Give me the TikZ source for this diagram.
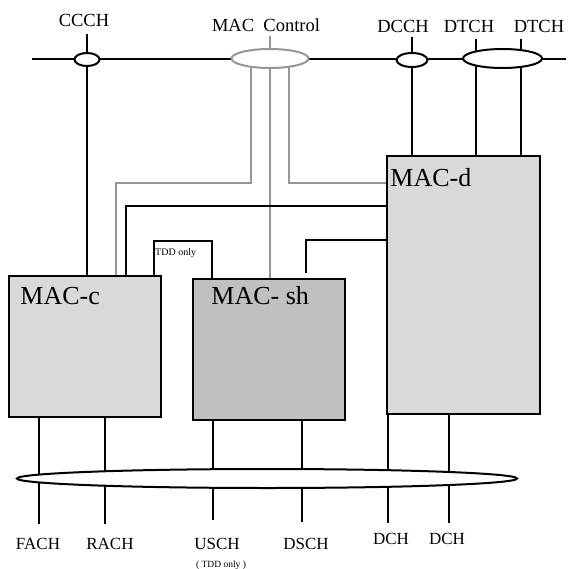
\documentclass[tikz,border=0pt]{standalone}
\usepackage{fontspec}
\setmainfont{Liberation Serif}
\usetikzlibrary{shapes.geometric,backgrounds}

\begin{document}
\begin{tikzpicture}[x=1pt,y=-1pt, every node/.style={font=\fontsize{17}{20}\selectfont},
  macBox/.style={draw, line width=1.5pt, inner sep=0pt},
  chanRing/.style={ellipse, draw, fill=white, line width=2pt, inner sep=0pt},
  boxText/.style={anchor=base west, inner sep=0pt, font=\fontsize{26}{30}\selectfont},
  chanText/.style={anchor=base},
  topText/.style={anchor=base, font=\fontsize{18.5}{22}\selectfont},
  wire/.style={line width=1.3pt},
  ctlWire/.style={line width=1.3pt, draw=ctlGray}]
  \definecolor{macLight}{HTML}{D9D9D9}
  \definecolor{macDark}{HTML}{C0C0C0}
  \definecolor{ctlGray}{HTML}{969696}
  \useasboundingbox (0,0) rectangle (567,569);
  % logical channels on top
  \coordinate (busL) at (32,59);
  \coordinate (busR) at (566,59);
  \node[chanRing, minimum width=25pt, minimum height=13pt] (ccch) at (87,59.5) {};
  \node[chanRing, draw=ctlGray, minimum width=77pt, minimum height=19pt] (macctl) at (270,58.5) {};
  \node[chanRing, minimum width=31pt, minimum height=14pt] (dcch) at (412,60) {};
  \node[chanRing, minimum width=79pt, minimum height=19pt] (dtch) at (502.5,58.5) {};
  \node[topText] (ccchlbl) at (84,27) {CCCH};
  \node[topText] (macctllbl) at (266,32) {MAC\ \ Control};
  \node[topText] (dcchlbl) at (403,33) {DCCH};
  \node[topText] (dtchlblA) at (469,33) {DTCH};
  \node[topText] (dtchlblB) at (539,33) {DTCH};
  \coordinate (dtchA) at (476,39);
  \coordinate (dtchB) at (521,39);
  % MAC entities
  \node[macBox, fill=macLight, minimum width=152pt, minimum height=141pt] (macc) at (85,346.5) {};
  \node[macBox, fill=macDark, minimum width=152pt, minimum height=141pt] (macsh) at (269,349.5) {};
  \node[macBox, fill=macLight, minimum width=153pt, minimum height=258pt] (macd) at (463.5,285) {};
  \node[boxText] (macclbl) at ([shift={(12pt,-29pt)}]macc.north west) {MAC-c};
  \node[boxText] (macshlbl) at ([shift={(19pt,-26pt)}]macsh.north west) {MAC-\ sh};
  \node[boxText] (macdlbl) at ([shift={(4pt,-31pt)}]macd.north west) {MAC-d};
  \node[anchor=base west, inner sep=0pt, font=\fontsize{10}{12}\selectfont] (tddlbl) at (155,255) {TDD only};
  % transport channels below
  \node[chanRing, minimum width=500pt, minimum height=19pt] (trbus) at (267,478.5) {};
  \node[chanText] (fachlbl) at (38,549) {FACH};
  \node[chanText] (rachlbl) at (110,549) {RACH};
  \node[chanText] (uschlbl) at (217,549) {USCH};
  \node[chanText] (dschlbl) at (306,549) {DSCH};
  \node[chanText] (dchlblA) at (391,544) {DCH};
  \node[chanText] (dchlblB) at (447,544) {DCH};
  \node[chanText, font=\fontsize{9.5}{11}\selectfont] (uschnote) at (221,567) {( TDD only )};
  \coordinate (fachEnd) at (39,524);
  \coordinate (rachEnd) at (105,524);
  \coordinate (uschEnd) at (213,520);
  \coordinate (dschEnd) at (302,522);
  \coordinate (dchEndA) at (388,523);
  \coordinate (dchEndB) at (449,523);
  % internal links
  \coordinate (ctlC) at (116,183);
  \coordinate (dToC) at (126,206);
  \coordinate (tddL) at (154,241);
  \coordinate (tddR) at (212,241);
  \coordinate (dToSh) at (306,240);
  \begin{pgfonlayer}{background}
    \draw[wire] (busL) -- (busR);
    \draw[wire, shorten >=3pt] (ccch.center) -- (ccch |- ccchlbl.south);
    \draw[wire] (ccch.center) -- (ccch |- macc.north);
    \draw[ctlWire] (macctl.center) -- (macctl |- macctllbl.south);
    \draw[ctlWire] ([xshift=-19pt]macctl.center) |- (ctlC) -- (ctlC |- macc.north);
    \draw[ctlWire] (macctl.center) -- (macctl |- macsh.north);
    \draw[ctlWire] ([xshift=19pt]macctl.center) |- (macd.west |- ctlC);
    \draw[wire] (dcch |- dcchlbl.south) -- (dcch |- macd.north);
    \draw[wire] (dtchA) -- (dtchA |- macd.north);
    \draw[wire] (dtchB) -- (dtchB |- macd.north);
    \draw[wire] (macd.west |- dToC) -| (dToC |- macc.north);
    \draw[wire] (tddL |- macc.north) -- (tddL) -- (tddR) -- (tddR |- macsh.north);
    \draw[wire, shorten >=5pt] (macd.west |- dToSh) -| (dToSh |- macsh.north);
    \draw[wire] (fachEnd |- macc.south) -- (fachEnd);
    \draw[wire] (rachEnd |- macc.south) -- (rachEnd);
    \draw[wire] (uschEnd |- macsh.south) -- (uschEnd);
    \draw[wire] (dschEnd |- macsh.south) -- (dschEnd);
    \draw[wire] (dchEndA |- macd.south) -- (dchEndA);
    \draw[wire] (dchEndB |- macd.south) -- (dchEndB);
  \end{pgfonlayer}
\end{tikzpicture}
\end{document}
